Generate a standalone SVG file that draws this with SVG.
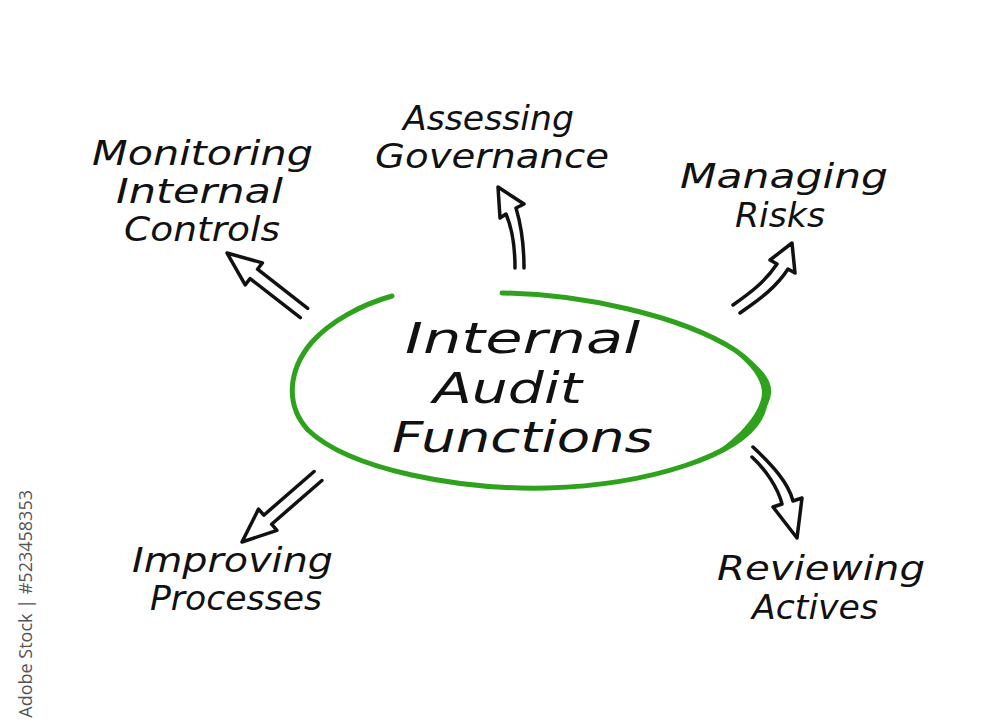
<svg xmlns="http://www.w3.org/2000/svg" width="1000" height="726" viewBox="0 0 1000 726">
  <style>
    .lbl { font-family: "DejaVu Sans", "Noto Sans", sans-serif; font-style: italic; font-size: 33px; fill: #111; text-anchor: middle; }
    .ctr { font-family: "DejaVu Sans", "Noto Sans", sans-serif; font-style: italic; font-size: 42px; fill: #111; text-anchor: middle; }
    .arrow { fill: #fff; stroke: #111; stroke-width: 3.5; stroke-linejoin: round; stroke-linecap: round; }
    .ring { fill: none; stroke: #2ea21c; stroke-width: 5; stroke-linecap: round; }
    .wm { font-family: "Open Sans", "DejaVu Sans", sans-serif; font-size: 18px; fill: #555; }
  </style>
  <rect width="1000" height="726" fill="#fff"/>

  <g id="center">
    <path class="ring" d="M 502,293 C 580,294 680,315 735,350 C 765,370 772,395 760,418 C 740,455 650,485 547,488 C 460,490 350,470 308,430 C 285,405 288,370 312,342 C 330,322 360,305 392,296"/>
    <path d="M 700,332 C 748,352 774,375 771,394 C 768,414 745,440 700,462 C 738,440 760,414 762,394 C 763,376 742,352 700,332 Z" fill="#2ea21c"/>
    <text class="ctr" x="522.5" y="353" textLength="235" lengthAdjust="spacingAndGlyphs">Internal</text>
    <text class="ctr" x="507.5" y="403" textLength="149" lengthAdjust="spacingAndGlyphs">Audit</text>
    <text class="ctr" x="522.5" y="452" textLength="261" lengthAdjust="spacingAndGlyphs">Functions</text>
  </g>

  <g id="monitoring">
    <text class="lbl" x="202.5" y="165" textLength="221" lengthAdjust="spacingAndGlyphs">Monitoring</text>
    <text class="lbl" x="199.5" y="203" textLength="167" lengthAdjust="spacingAndGlyphs">Internal</text>
    <text class="lbl" x="202" y="241" textLength="156" lengthAdjust="spacingAndGlyphs">Controls</text>
  </g>

  <g id="governance">
    <text class="lbl" x="488.5" y="130" textLength="171" lengthAdjust="spacingAndGlyphs">Assessing</text>
    <text class="lbl" x="492" y="168" textLength="234" lengthAdjust="spacingAndGlyphs">Governance</text>
  </g>

  <g id="risks">
    <text class="lbl" x="784" y="188" textLength="208" lengthAdjust="spacingAndGlyphs">Managing</text>
    <text class="lbl" x="780" y="227" textLength="90" lengthAdjust="spacingAndGlyphs">Risks</text>
  </g>

  <g id="improving">
    <text class="lbl" x="232.5" y="572" textLength="201" lengthAdjust="spacingAndGlyphs">Improving</text>
    <text class="lbl" x="236" y="610" textLength="172" lengthAdjust="spacingAndGlyphs">Processes</text>
  </g>

  <g id="reviewing">
    <text class="lbl" x="821" y="580" textLength="208" lengthAdjust="spacingAndGlyphs">Reviewing</text>
    <text class="lbl" x="815" y="619" textLength="126" lengthAdjust="spacingAndGlyphs">Actives</text>
  </g>

  <g id="connectors">
    <path class="arrow" d="M 307.7,308.3 L 257.5,269.2 L 262.4,262.9 L 227,253 L 245.2,284.9 L 250.1,278.6 L 300.3,317.7"/>
    <path class="arrow" d="M 515,268 C 515,246 512,228 506,214 L 500,218 L 498,187 L 524,204 L 516,208 C 522,228 524,246 524,268"/>
    <path class="arrow" d="M 733,305 C 750,293 765,282 777,264 L 770,260 L 792,243 L 795,273 L 788,269 C 775,289 758,300 740,313"/>
    <path class="arrow" d="M 753,447 C 772,465 788,482 793,501 L 802,498 L 797,538 L 773,507 L 782,504 C 778,488 766,470 752,457"/>
    <path class="arrow" d="M 314.1,471.5 L 263.8,515.2 L 258.5,509.1 L 242,542 L 276.9,530.3 L 271.6,524.2 L 321.9,480.5"/>
  </g>

  <text class="wm" transform="translate(32,490) rotate(-90)" text-anchor="end">Adobe Stock | #523458353</text>
</svg>
